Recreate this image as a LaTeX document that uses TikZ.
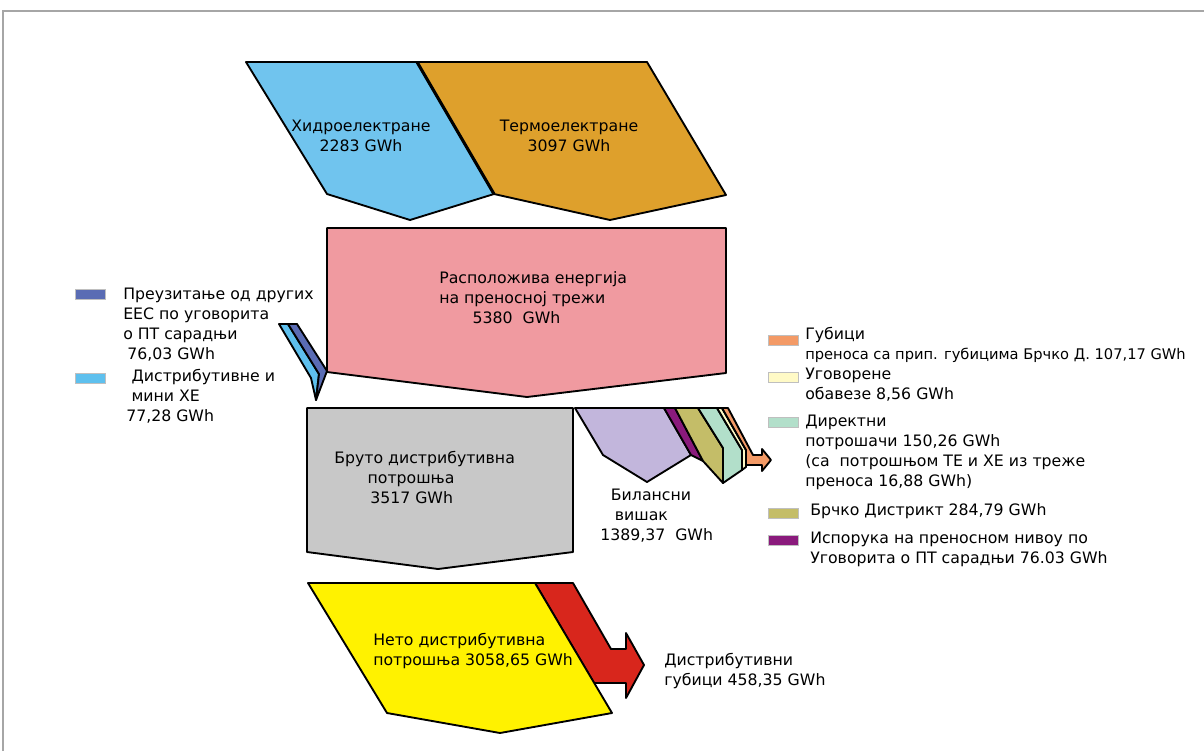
\documentclass[tikz,border=0pt]{standalone}
\usepackage{fontspec}
\setmainfont{DejaVu Sans}
\usepackage{xcolor}
\usepackage{tikz}
\usetikzlibrary{positioning}

\definecolor{hydroC}{HTML}{70C4EE}
\definecolor{thermC}{HTML}{DEA02C}
\definecolor{availC}{HTML}{F09AA0}
\definecolor{grossC}{HTML}{C8C8C8}
\definecolor{netC}{HTML}{FFF200}
\definecolor{lossC}{HTML}{D8261C}
\definecolor{surplusC}{HTML}{C2B6DC}
\definecolor{deliveryC}{HTML}{8A1A7C}
\definecolor{brckoC}{HTML}{C4BD68}
\definecolor{directC}{HTML}{B2DFCA}
\definecolor{contractC}{HTML}{FFFAC6}
\definecolor{transC}{HTML}{F39A66}
\definecolor{importC}{HTML}{5A6CB4}
\definecolor{smallC}{HTML}{5EC0EE}

\begin{document}
\begin{tikzpicture}[
  x=0.75pt, y=-0.75pt,
  flow/.style={draw=black, line width=1.4pt, line join=round},
  lbl/.style={align=left, anchor=west, inner sep=0pt,
              font=\fontsize{11.8}{15}\selectfont},
  key/.style={draw=gray!50, line width=0.4pt, minimum width=22.5pt,
              minimum height=7.5pt, inner sep=0pt, anchor=west}
]
  \useasboundingbox (0,0) rectangle (1204,751);
  \draw[gray!70, line width=0.8pt] (3,751) -- (3,11) -- (1204,11);

  % sources
  \draw[flow, fill=hydroC] (246,62) -- (417,62) -- (494,194) -- (410,220) -- (327,194) -- cycle;
  \draw[flow, fill=thermC] (417,62) -- (647,62) -- (726,195) -- (610,220) -- (494,194) -- cycle;
  \draw[line width=2.3pt] (417,62) -- (494,194);
  \node[lbl, align=center, anchor=center] (hydro) at (361,136) {Хидроелектране\\2283 GWh};
  \node[lbl, align=center, anchor=center] (therm) at (569,136) {Термоелектране\\3097 GWh};

  % transmission network
  \draw[flow, fill=availC] (327,228) -- (726,228) -- (726,373) -- (527,397) -- (327,372) -- cycle;
  \node[lbl] (avail) at (439,298) {Расположива енергија\\на преносној трежи\\\hspace*{25pt}5380\ \ GWh};

  \draw[flow, fill=smallC] (279,324) -- (288,324) -- (319,374) -- (316,400) -- (311,378) -- cycle;
  \draw[flow, fill=importC] (288,324) -- (297,324) -- (327,371) -- (316,400) -- (319,374) -- cycle;

  % distribution
  \draw[flow, fill=grossC] (307,408) -- (573,408) -- (573,552) -- (438,569) -- (307,552) -- cycle;
  \node[lbl] (gross) at (334,477) {Бруто дистрибутивна\\\hspace*{25pt}потрошња\\\hspace*{27pt}3517 GWh};

  \draw[flow, fill=surplusC] (575,408) -- (664,408) -- (691,455) -- (647,482) -- (603,455) -- cycle;
  \draw[flow, fill=deliveryC] (664,408) -- (675,408) -- (703,461) -- (691,455) -- cycle;
  \draw[flow, fill=brckoC] (675,408) -- (698,408) -- (723,448) -- (723,483) -- (703,461) -- cycle;
  \draw[flow, fill=directC] (698,408) -- (717,408) -- (742,450) -- (742,470) -- (723,483) -- (723,448) -- cycle;
  \draw[flow, fill=contractC] (717,408) -- (722,408) -- (746,450) -- (746,467) -- (742,470) -- (742,450) -- cycle;
  \draw[flow, fill=transC] (722,408) -- (728,408) -- (753,455) -- (762,455) -- (762,449) -- (771,460)
    -- (762,471) -- (762,465) -- (746,465) -- (746,450) -- cycle;
  \node[lbl] (surplus) at (600,516) {\hspace*{8pt}Билансни\\\hspace*{11pt}вишак\\1389,37\ \ GWh};

  \draw[flow, fill=lossC] (535,583) -- (573,583) -- (611,649) -- (626,649) -- (626,633) -- (644,665)
    -- (626,698) -- (626,683) -- (594,683) -- cycle;
  \draw[flow, fill=netC] (308,583) -- (535,583) -- (612,713) -- (500,733) -- (387,713) -- cycle;
  \node[lbl] (net) at (373,651) {Нето дистрибутивна\\потрошња 3058,65 GWh};
  \node[lbl] (loss) at (664,671) {Дистрибутивни\\губици 458,35 GWh};

  % legend, left
  \node[key, fill=importC] (kImport) at (75,294) {};
  \node[lbl] (tImport) at (123,325) {Преузитање од других\\ЕЕС по уговорита\\о ПТ сарадњи\\\hspace*{3pt}76,03 GWh};
  \node[key, fill=smallC] (kSmall) at (75,378) {};
  \node[lbl] (tSmall) at (126,396) {\hspace*{4pt}Дистрибутивне и\\\hspace*{4pt}мини ХЕ\\77,28 GWh};

  % legend, right
  \node[key, fill=transC] (kTrans) at (768,340) {};
  \node[lbl] (tTrans) at (805,345) {Губици\\{\fontsize{11}{15}\selectfont преноса са прип. губицима Брчко Д. 107,17 GWh}};
  \node[key, fill=contractC] (kContract) at (768,377) {};
  \node[lbl] (tContract) at (805,385) {Уговорене\\обавезе 8,56 GWh};
  \node[key, fill=directC] (kDirect) at (768,422) {};
  \node[lbl] (tDirect) at (805,452) {Директни\\потрошачи 150,26 GWh\\(са\ \ потрошњом ТЕ и ХЕ из треже\\преноса 16,88 GWh)};
  \node[key, fill=brckoC] (kBrcko) at (768,513) {};
  \node[lbl] (tBrcko) at (810,511) {Брчко Дистрикт 284,79 GWh};
  \node[key, fill=deliveryC] (kDelivery) at (768,540) {};
  \node[lbl] (tDelivery) at (810,549) {Испорука на преносном нивоу по\\Уговорита о ПТ сарадњи 76.03 GWh};
\end{tikzpicture}
\end{document}
